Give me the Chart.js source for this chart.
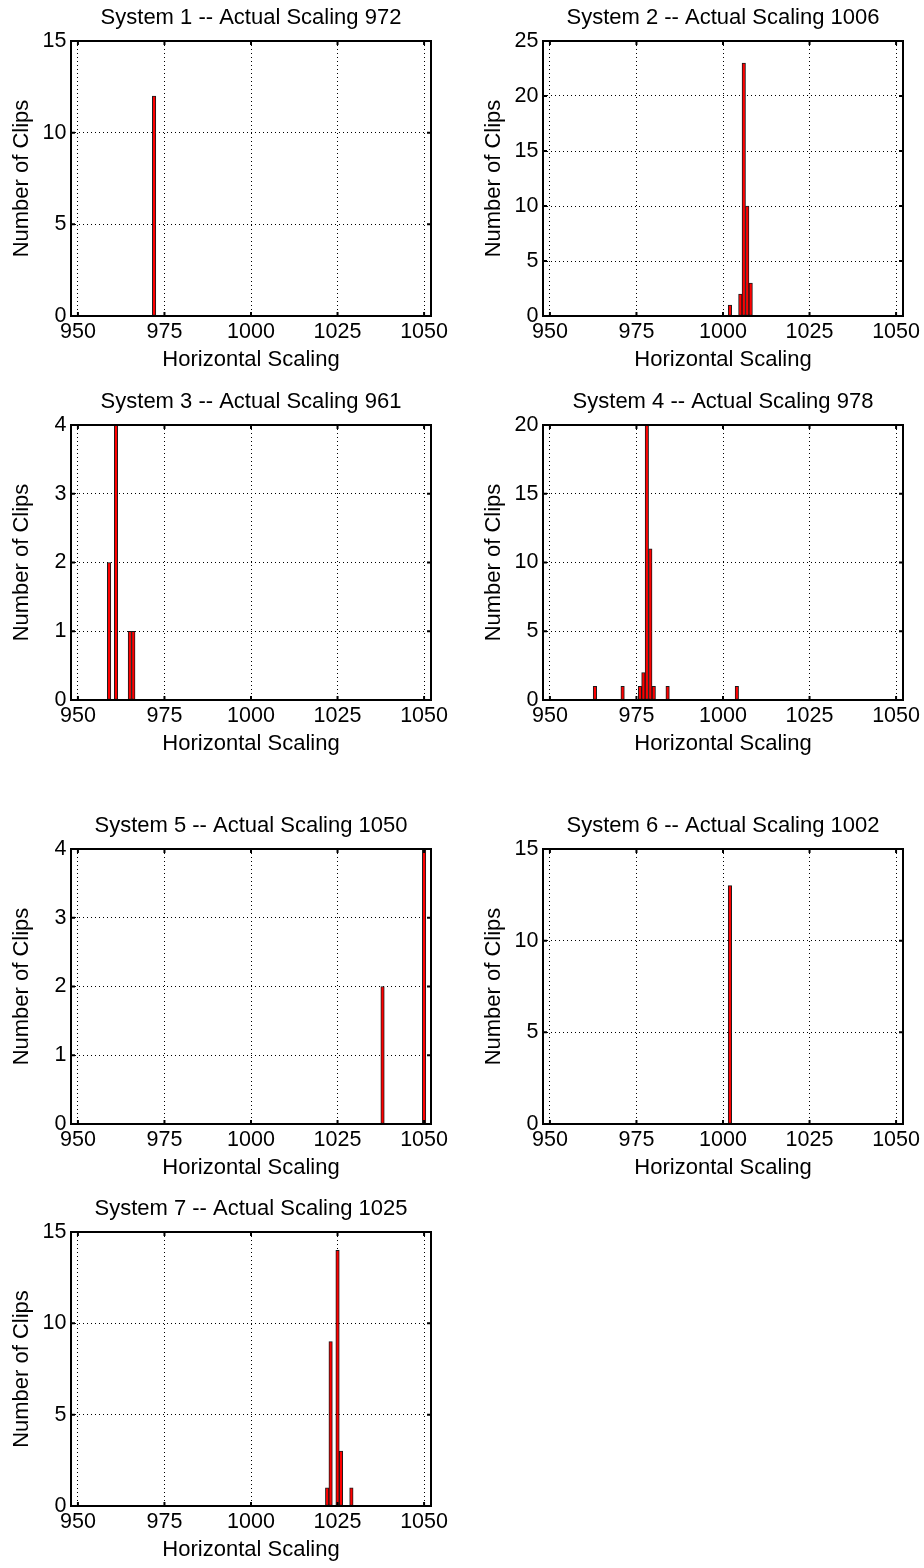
<!DOCTYPE html>
<html>
<head>
<meta charset="utf-8">
<script src="https://cdn.jsdelivr.net/npm/chart.js@4.4.1/dist/chart.umd.min.js"></script>
<style>
  html, body { margin: 0; padding: 0; background: #ffffff; }
  body { width: 924px; height: 1568px; position: relative; overflow: hidden; }
  canvas { position: absolute; }
</style>
</head>
<body>
<canvas id="c1"></canvas>
<canvas id="c2"></canvas>
<canvas id="c3"></canvas>
<canvas id="c4"></canvas>
<canvas id="c5"></canvas>
<canvas id="c6"></canvas>
<canvas id="c7"></canvas>
<script>
// ---------------- data ----------------
const xTicks = [950, 975, 1000, 1025, 1050];
const xMin = 948;
const xMax = 1052;
const xLabel = 'Horizontal Scaling';
const yLabel = 'Number of Clips';

const titles = [
  'System 1 -- Actual Scaling 972',
  'System 2 -- Actual Scaling 1006',
  'System 3 -- Actual Scaling 961',
  'System 4 -- Actual Scaling 978',
  'System 5 -- Actual Scaling 1050',
  'System 6 -- Actual Scaling 1002',
  'System 7 -- Actual Scaling 1025'
];

const sys1Bins = [972];
const sys1Counts = [12];
const sys1YTicks = [0, 5, 10, 15];

const sys2Bins = [1002, 1005, 1006, 1007, 1008];
const sys2Counts = [1, 2, 23, 10, 3];
const sys2YTicks = [0, 5, 10, 15, 20, 25];

const sys3Bins = [959, 961, 965, 966];
const sys3Counts = [2, 4, 1, 1];
const sys3YTicks = [0, 1, 2, 3, 4];

const sys4Bins = [963, 971, 976, 977, 978, 979, 980, 984, 1004];
const sys4Counts = [1, 1, 1, 2, 20, 11, 1, 1, 1];
const sys4YTicks = [0, 5, 10, 15, 20];

const sys5Bins = [1038, 1050];
const sys5Counts = [2, 4];
const sys5YTicks = [0, 1, 2, 3, 4];

const sys6Bins = [1002];
const sys6Counts = [13];
const sys6YTicks = [0, 5, 10, 15];

const sys7Bins = [1022, 1023, 1025, 1026, 1029];
const sys7Counts = [1, 9, 14, 3, 1];
const sys7YTicks = [0, 5, 10, 15];

// ---------------- layout ----------------
const FONT = '"Liberation Sans", Arial, Helvetica, sans-serif';
const TOP_BLOCK = 42;
const BOTTOM_BLOCK = 62;
const Y_AXIS_W = 71;
const PLOT_W = 360;
const RIGHT_PAD = 24;
const CANVAS_W = Y_AXIS_W + PLOT_W + RIGHT_PAD;

const panels = [
  { id: 'c1', title: titles[0], bins: sys1Bins, counts: sys1Counts, yTicks: sys1YTicks, left: 71,  top: 41,   h: 275 },
  { id: 'c2', title: titles[1], bins: sys2Bins, counts: sys2Counts, yTicks: sys2YTicks, left: 543, top: 41,   h: 275 },
  { id: 'c3', title: titles[2], bins: sys3Bins, counts: sys3Counts, yTicks: sys3YTicks, left: 71,  top: 425,  h: 275 },
  { id: 'c4', title: titles[3], bins: sys4Bins, counts: sys4Counts, yTicks: sys4YTicks, left: 543, top: 425,  h: 275 },
  { id: 'c5', title: titles[4], bins: sys5Bins, counts: sys5Counts, yTicks: sys5YTicks, left: 71,  top: 849,  h: 275 },
  { id: 'c6', title: titles[5], bins: sys6Bins, counts: sys6Counts, yTicks: sys6YTicks, left: 543, top: 849,  h: 275 },
  { id: 'c7', title: titles[6], bins: sys7Bins, counts: sys7Counts, yTicks: sys7YTicks, left: 71,  top: 1232, h: 274 }
];

const framePlugin = {
  id: 'frame',
  afterDraw(chart) {
    const { ctx, chartArea: a, scales: { x, y } } = chart;
    ctx.save();
    ctx.strokeStyle = '#000';
    ctx.lineWidth = 2;
    ctx.setLineDash([]);
    ctx.strokeRect(a.left, a.top, a.right - a.left, a.bottom - a.top);
    const L = 4;
    ctx.beginPath();
    x.ticks.forEach(t => {
      const px = x.getPixelForValue(t.value);
      ctx.moveTo(px, a.bottom); ctx.lineTo(px, a.bottom - L);
      ctx.moveTo(px, a.top); ctx.lineTo(px, a.top + L);
    });
    y.ticks.forEach(t => {
      const py = y.getPixelForValue(t.value);
      ctx.moveTo(a.left, py); ctx.lineTo(a.left + L, py);
      ctx.moveTo(a.right, py); ctx.lineTo(a.right - L, py);
    });
    ctx.stroke();
    ctx.restore();
  }
};

function makeChart(p) {
  const canvas = document.getElementById(p.id);
  canvas.width = CANVAS_W;
  canvas.height = TOP_BLOCK + p.h + BOTTOM_BLOCK;
  canvas.style.width = CANVAS_W + 'px';
  canvas.style.height = canvas.height + 'px';
  canvas.style.left = (p.left - Y_AXIS_W) + 'px';
  canvas.style.top = (p.top - TOP_BLOCK) + 'px';
  const unitPx = PLOT_W / (xMax - xMin);
  const yMax = p.yTicks[p.yTicks.length - 1];
  const gridCommon = { color: '#000', lineWidth: 1, drawTicks: false, offset: false };
  const borderCommon = { display: false, dash: [1, 3] };
  new Chart(canvas, {
    type: 'bar',
    data: {
      datasets: [{
        data: p.bins.map((b, i) => ({ x: b, y: p.counts[i] })),
        backgroundColor: '#ff0000',
        borderColor: '#1a1a1a',
        borderWidth: 1,
        borderSkipped: false,
        barThickness: unitPx
      }]
    },
    options: {
      responsive: false,
      animation: false,
      devicePixelRatio: 1,
      layout: { padding: { left: 0, top: 0, right: RIGHT_PAD, bottom: 0 } },
      plugins: {
        legend: { display: false },
        tooltip: { enabled: false },
        title: {
          display: true,
          fullSize: false,
          text: p.title,
          color: '#000',
          font: { family: FONT, size: 22, weight: 'normal', lineHeight: 1.2 },
          padding: { top: 5.8, bottom: 9.8 }
        }
      },
      scales: {
        x: {
          type: 'linear',
          min: xMin,
          max: xMax,
          offset: false,
          afterBuildTicks: s => { s.ticks = xTicks.map(v => ({ value: v })); },
          afterFit: s => { s.height = BOTTOM_BLOCK; s.paddingLeft = 0; s.paddingRight = 0; },
          grid: gridCommon,
          border: borderCommon,
          ticks: {
            color: '#000',
            font: { family: FONT, size: 21.5, lineHeight: 1.2 },
            padding: 3,
            maxRotation: 0,
            autoSkip: false,
            callback: v => String(v)
          },
          title: {
            display: true,
            text: xLabel,
            color: '#000',
            font: { family: FONT, size: 22, lineHeight: 1.2 },
            padding: { top: 0, bottom: 5.3 }
          }
        },
        y: {
          type: 'linear',
          min: 0,
          max: yMax,
          afterBuildTicks: s => { s.ticks = p.yTicks.map(v => ({ value: v })); },
          afterFit: s => { s.width = Y_AXIS_W; s.paddingTop = 0; s.paddingBottom = 0; },
          grid: gridCommon,
          border: borderCommon,
          ticks: {
            color: '#000',
            font: { family: FONT, size: 21.5, lineHeight: 1.2 },
            padding: 4.5,
            autoSkip: false,
            callback: v => String(v)
          },
          title: {
            display: true,
            text: yLabel,
            color: '#000',
            font: { family: FONT, size: 22, lineHeight: 1.2 },
            padding: { top: 8.8, bottom: 0 }
          }
        }
      }
    },
    plugins: [framePlugin]
  });
}

panels.forEach(makeChart);
</script>
</body>
</html>
